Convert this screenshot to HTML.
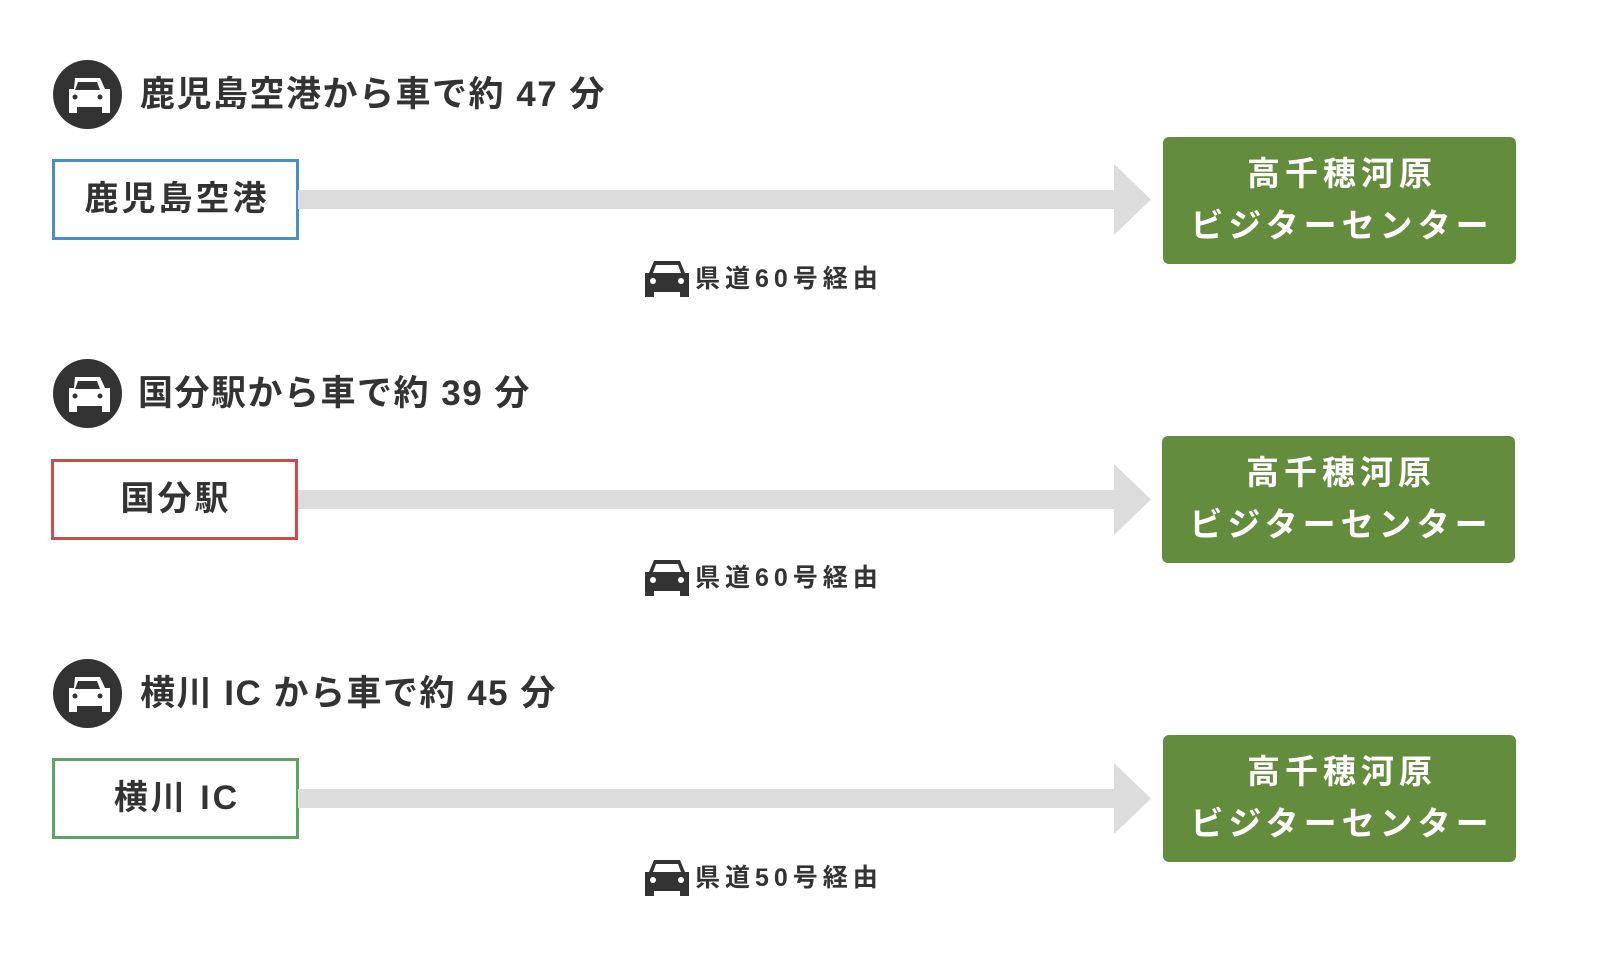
<!DOCTYPE html>
<html><head><meta charset="utf-8"><style>
body{margin:0;width:1600px;height:974px;background:#fff;position:relative;overflow:hidden;font-family:"Liberation Sans","Noto Sans CJK JP",sans-serif;color:#333}
.a{position:absolute}
.h{font-size:35px;font-weight:bold;white-space:nowrap;line-height:40px;letter-spacing:1.5px}
.src{box-sizing:border-box;width:247px;height:81px;border:3px solid;background:#fff;font-size:34px;font-weight:bold;text-align:center;line-height:75px;letter-spacing:3px;padding-left:3px}
.dst{width:353px;height:127px;background:#638d3c;border-radius:6px;color:#fff;font-size:33px;font-weight:bold;text-align:center;line-height:52px;padding-top:11px;padding-left:5px;box-sizing:border-box;letter-spacing:5px}
.bar{left:298px;width:818px;height:19px;background:#dcdcdc}
.route{font-size:25px;font-weight:bold;letter-spacing:5px;white-space:nowrap;line-height:30px}
</style></head><body>

<div class="a" style="top:0">
<svg class="a" style="left:53px;top:60px" width="69" height="69" viewBox="0 0 69 69"><circle cx="34.5" cy="34.5" r="34.5" fill="#333"/><path d="M22 18h25l5 11h5v24h-8v-6H24v6h-8V29h5z" fill="#fff"/><path d="M25 22h19l3 8H22z" fill="#333"/><circle cx="22" cy="37" r="2.5" fill="#333"/><circle cx="47" cy="37" r="2.5" fill="#333"/></svg>
<div class="a h" style="left:140px;top:75px">鹿児島空港から車で約 47 分</div>
<div class="a src" style="left:52px;top:159px;border-color:#4a8dc8">鹿児島空港</div>
<div class="a bar" style="top:190px"></div>
<svg class="a" style="left:1114px;top:164px" width="37" height="71"><polygon points="0,0 37,35.5 0,71" fill="#dcdcdc"/></svg>
<div class="a dst" style="left:1163px;top:137px">高千穂河原<br>ビジターセンター</div>
<svg class="a" style="left:645px;top:260px" width="44" height="37" viewBox="0 0 44 37"><path d="M9 1h26l5 12h4v24h-9v-5H9v5H0V13h4z" fill="#333"/><path d="M11 5h22l3 8H8z" fill="#fff"/><circle cx="8" cy="21" r="3" fill="#fff"/><circle cx="36" cy="21" r="3" fill="#fff"/></svg>
<div class="a route" style="left:695px;top:264px">県道60号経由</div>
</div>

<div class="a" style="top:299px;left:0">
<svg class="a" style="left:53px;top:60px" width="69" height="69" viewBox="0 0 69 69"><circle cx="34.5" cy="34.5" r="34.5" fill="#333"/><path d="M22 18h25l5 11h5v24h-8v-6H24v6h-8V29h5z" fill="#fff"/><path d="M25 22h19l3 8H22z" fill="#333"/><circle cx="22" cy="37" r="2.5" fill="#333"/><circle cx="47" cy="37" r="2.5" fill="#333"/></svg>
<div class="a h" style="left:138px;top:75px">国分駅から車で約 39 分</div>
<div class="a src" style="left:51px;top:160px;border-color:#cc4c4c">国分駅</div>
<div class="a bar" style="top:191px"></div>
<svg class="a" style="left:1114px;top:165px" width="37" height="71"><polygon points="0,0 37,35.5 0,71" fill="#dcdcdc"/></svg>
<div class="a dst" style="left:1162px;top:137px">高千穂河原<br>ビジターセンター</div>
<svg class="a" style="left:645px;top:260px" width="44" height="37" viewBox="0 0 44 37"><path d="M9 1h26l5 12h4v24h-9v-5H9v5H0V13h4z" fill="#333"/><path d="M11 5h22l3 8H8z" fill="#fff"/><circle cx="8" cy="21" r="3" fill="#fff"/><circle cx="36" cy="21" r="3" fill="#fff"/></svg>
<div class="a route" style="left:695px;top:264px">県道60号経由</div>
</div>

<div class="a" style="top:599px;left:0">
<svg class="a" style="left:53px;top:60px" width="69" height="69" viewBox="0 0 69 69"><circle cx="34.5" cy="34.5" r="34.5" fill="#333"/><path d="M22 18h25l5 11h5v24h-8v-6H24v6h-8V29h5z" fill="#fff"/><path d="M25 22h19l3 8H22z" fill="#333"/><circle cx="22" cy="37" r="2.5" fill="#333"/><circle cx="47" cy="37" r="2.5" fill="#333"/></svg>
<div class="a h" style="left:140px;top:75px">横川 IC から車で約 45 分</div>
<div class="a src" style="left:52px;top:159px;border-color:#5aa564">横川 IC</div>
<div class="a bar" style="top:190px"></div>
<svg class="a" style="left:1114px;top:164px" width="37" height="71"><polygon points="0,0 37,35.5 0,71" fill="#dcdcdc"/></svg>
<div class="a dst" style="left:1163px;top:136px">高千穂河原<br>ビジターセンター</div>
<svg class="a" style="left:645px;top:260px" width="44" height="37" viewBox="0 0 44 37"><path d="M9 1h26l5 12h4v24h-9v-5H9v5H0V13h4z" fill="#333"/><path d="M11 5h22l3 8H8z" fill="#fff"/><circle cx="8" cy="21" r="3" fill="#fff"/><circle cx="36" cy="21" r="3" fill="#fff"/></svg>
<div class="a route" style="left:695px;top:264px">県道50号経由</div>
</div>

</body></html>
